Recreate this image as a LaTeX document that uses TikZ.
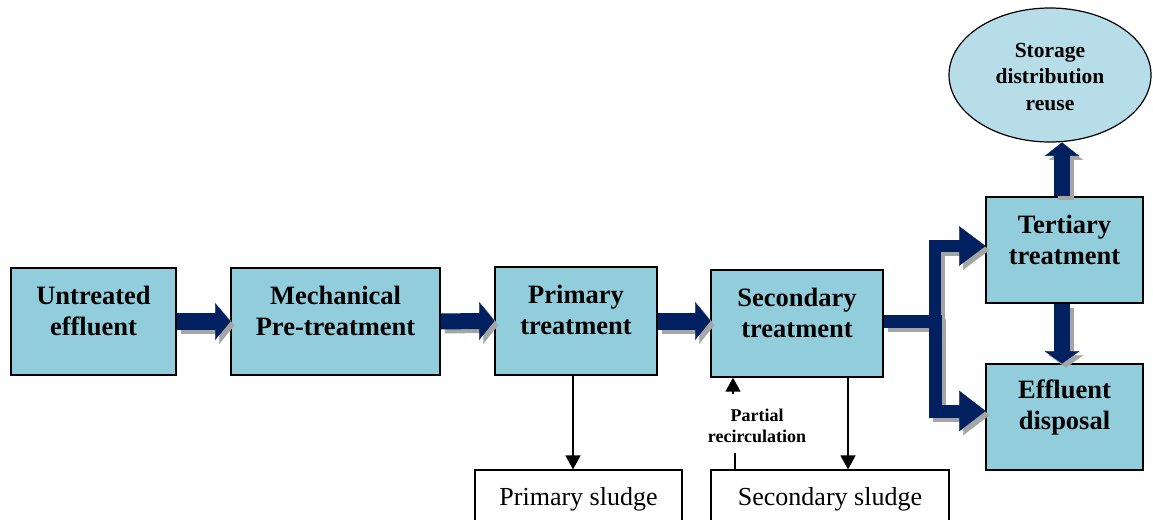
\documentclass[tikz,border=0pt]{standalone}
\usepackage{fontspec}
\setmainfont{Liberation Serif}
\usetikzlibrary{arrows.meta,shapes.geometric}
\definecolor{boxblue}{RGB}{146,205,220}
\definecolor{ellblue}{RGB}{183,222,232}
\definecolor{navy}{RGB}{0,32,96}
\definecolor{shade}{RGB}{165,165,165}
\tikzset{
  box/.style={draw=black,line width=1.4pt,fill=boxblue,rectangle,inner sep=0pt},
  boxtext/.style={font=\bfseries\fontsize{26.5}{31}\selectfont,align=center,inner sep=0pt,yshift=11pt},
  sludge/.style={draw=black,line width=1.2pt,fill=white,rectangle,inner sep=0pt,
    font=\fontsize{26}{30}\selectfont},
  flow/.style={draw=navy,fill=navy,line join=miter},
  flowshadow/.style={draw=shade,fill=shade,line join=miter,transform canvas={xshift=4pt,yshift=-4pt}},
  shaft/.style={fill=none},
  head/.style={line width=0.3pt},
  thinarrow/.style={draw=black,line width=1.5pt,-{Triangle[width=15pt,length=14pt]}},
}
\begin{document}
\begin{tikzpicture}[x=1pt,y=-1pt]
\useasboundingbox (0,0) rectangle (1153,519);
\clip (0,0) rectangle (1153,519);

% boxes
\node[box,minimum width=165,minimum height=107,
  label={[boxtext,name=untT]center:{Untreated\\effluent}}] (unt) at (93.5,321.5) {};
\node[box,minimum width=209,minimum height=107,
  label={[boxtext,name=mechT]center:{Mechanical\\Pre-treatment}}] (mech) at (335.5,321.5) {};
\node[box,minimum width=162,minimum height=108,
  label={[boxtext,name=primT]center:{Primary\\treatment}}] (prim) at (576,321) {};
\node[box,minimum width=172,minimum height=107,
  label={[boxtext,name=secT]center:{Secondary\\treatment}}] (sec) at (797,323.5) {};
\node[box,minimum width=157,minimum height=106,
  label={[boxtext,name=terT,yshift=-1pt]center:{Tertiary\\treatment}}] (ter) at (1064.5,250) {};
\node[box,minimum width=157,minimum height=106,
  label={[boxtext,name=effT,yshift=-1pt]center:{Effluent\\disposal}}] (eff) at (1064.5,417) {};
\node[ellipse,draw=black,line width=1.2pt,fill=ellblue,minimum width=202,minimum height=134,
  inner sep=0pt,
  label={[name=stoT,align=center,inner sep=0pt,yshift=-2pt,
    font=\bfseries\fontsize{21.5}{26.5}\selectfont]center:{Storage\\distribution\\reuse}}]
  (sto) at (1050,75) {};

\node[sludge,minimum width=207,minimum height=58] (psl) at (578.5,499) {Primary sludge};
\node[sludge,minimum width=238,minimum height=58] (ssl) at (830,499) {Secondary sludge};

% end points of the block arrows
\coordinate (split) at (935,321);
\coordinate (p1) at (mech.west);
\coordinate (p2) at (prim.west);
\coordinate (p3) at (prim.east -| sec.west);
\coordinate (p4) at ([yshift=4pt]ter.west);
\coordinate (p5) at ([yshift=6pt]eff.west);
\coordinate (p6) at ([xshift=-2.5pt]ter.north |- sto.south);
\coordinate (p7) at ([xshift=-2.5pt]eff.north);

% shadows first, then the navy arrows
\foreach \st in {flowshadow,flow}{
  % untreated -> mechanical
  \draw[\st,shaft,line width=17pt] (unt.east) -- ([xshift=-14pt]p1);
  \filldraw[\st,head] ([xshift=-15pt,yshift=18pt]p1) -- (p1) -- ([xshift=-15pt,yshift=-18pt]p1) -- cycle;
  % mechanical -> primary
  \draw[\st,shaft,line width=16pt] (mech.east) -- ([xshift=-14pt]p2);
  \filldraw[\st,head] ([xshift=-15pt,yshift=18.5pt]p2) -- (p2) -- ([xshift=-15pt,yshift=-18.5pt]p2) -- cycle;
  % primary -> secondary
  \draw[\st,shaft,line width=17pt] (prim.east) -- ([xshift=-14pt]p3);
  \filldraw[\st,head] ([xshift=-15pt,yshift=18.5pt]p3) -- (p3) -- ([xshift=-15pt,yshift=-18.5pt]p3) -- cycle;
  % secondary -> tertiary
  \draw[\st,shaft,line width=12pt] (sec.east |- split) -- (split) |- ([xshift=-25pt]p4);
  \filldraw[\st,head] ([xshift=-26pt,yshift=19.5pt]p4) -- (p4) -- ([xshift=-26pt,yshift=-19.5pt]p4) -- cycle;
  % secondary -> effluent disposal
  \draw[\st,shaft,line width=13pt] (sec.east |- split) -- (split) |- ([xshift=-25pt]p5);
  \filldraw[\st,head] ([xshift=-26pt,yshift=20pt]p5) -- (p5) -- ([xshift=-26pt,yshift=-20pt]p5) -- cycle;
  % tertiary -> storage
  \draw[\st,shaft,line width=16pt] ([xshift=-2.5pt]ter.north) -- ([yshift=-12pt]p6);
  \filldraw[\st,head] ([xshift=-16.5pt,yshift=-13pt]p6) -- (p6) -- ([xshift=16.5pt,yshift=-13pt]p6) -- cycle;
  % tertiary -> effluent disposal
  \draw[\st,shaft,line width=16pt] ([xshift=-2.5pt]ter.south) -- ([yshift=11pt]p7);
  \filldraw[\st,head] ([xshift=-17pt,yshift=12pt]p7) -- (p7) -- ([xshift=17pt,yshift=12pt]p7) -- cycle;
}

% thin connectors
\draw[thinarrow] ([xshift=-3pt]prim.south) -- ([xshift=-3pt]prim.south |- psl.north);
\draw[thinarrow] ([xshift=51pt]sec.south) -- ([xshift=51pt]sec.south |- ssl.north);

\node[font=\bfseries\fontsize{18}{20.5}\selectfont,align=center,inner sep=0pt] (rec) at (757,426)
  {Partial\\recirculation};
\coordinate (recTop) at (733,394);
\coordinate (recBot) at (735,453);
\draw[thinarrow] (recTop) -- (recTop |- sec.south);
\draw[black,line width=1.5pt] (recBot) -- (recBot |- ssl.north);
\end{tikzpicture}
\end{document}
